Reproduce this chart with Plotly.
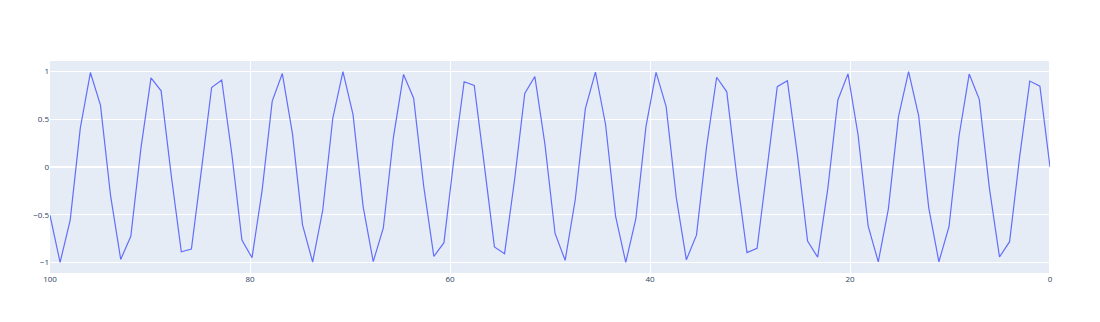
import plotly.graph_objects as go

# 100 evenly spaced x values from 0 to 100 (step 100/99), y values
x_vals = [
    0.0, 1.0101, 2.0202, 3.0303, 4.0404, 5.0505, 6.0606, 7.0707, 8.0808, 9.0909,
    10.101, 11.1111, 12.1212, 13.1313, 14.1414, 15.1515, 16.1616, 17.1717, 18.1818, 19.1919,
    20.202, 21.2121, 22.2222, 23.2323, 24.2424, 25.2525, 26.2626, 27.2727, 28.2828, 29.2929,
    30.303, 31.3131, 32.3232, 33.3333, 34.3434, 35.3535, 36.3636, 37.3737, 38.3838, 39.3939,
    40.404, 41.4141, 42.4242, 43.4343, 44.4444, 45.4545, 46.4646, 47.4747, 48.4848, 49.4949,
    50.5051, 51.5152, 52.5253, 53.5354, 54.5455, 55.5556, 56.5657, 57.5758, 58.5859, 59.596,
    60.6061, 61.6162, 62.6263, 63.6364, 64.6465, 65.6566, 66.6667, 67.6768, 68.6869, 69.697,
    70.7071, 71.7172, 72.7273, 73.7374, 74.7475, 75.7576, 76.7677, 77.7778, 78.7879, 79.798,
    80.8081, 81.8182, 82.8283, 83.8384, 84.8485, 85.8586, 86.8687, 87.8788, 88.8889, 89.899,
    90.9091, 91.9192, 92.9293, 93.9394, 94.9495, 95.9596, 96.9697, 97.9798, 98.9899, 100.0,
]
y_vals = [
    0.0000, 0.8469, 0.9007, 0.1111, -0.7826, -0.9434, -0.2208, 0.7086, 0.9744, 0.3277,
    -0.6259, -0.9933, -0.4306, 0.5353, 1.0000, 0.5282, -0.4382, -0.9943, -0.6193, 0.3357,
    0.9763, 0.7027, -0.2290, -0.9461, -0.7774, 0.1195, 0.9044, 0.8423, -0.0085, -0.8514,
    -0.8970, -0.1026, 0.7878, 0.9406, 0.2125, -0.7146, -0.9725, -0.3197, 0.6325, 0.9923,
    0.4229, -0.5425, -0.9999, -0.5210, 0.4458, 0.9951, 0.6126, -0.3436, -0.9781, -0.6966,
    0.2373, 0.9489, 0.7719, -0.1279, -0.9080, -0.8378, 0.0170, 0.8558, 0.8932, 0.0942,
    -0.7930, -0.9376, -0.2041, 0.7205, 0.9704, 0.3116, -0.6390, -0.9912, -0.4151, 0.5497,
    0.9998, 0.5136, -0.4535, -0.9960, -0.6058, 0.3517, 0.9798, 0.6904, -0.2456, -0.9515,
    -0.7664, 0.1364, 0.9115, 0.8331, -0.0255, -0.8602, -0.8894, -0.0857, 0.7982, 0.9346,
    0.1958, -0.7263, -0.9683, -0.3035, 0.6455, 0.9901, 0.4075, -0.5567, -0.9996, -0.5064,
]

fig = go.Figure(go.Scatter(x=x_vals, y=y_vals, mode="lines", line=dict(width=1.2)))
fig.update_layout(
    width=1100, height=322,
    margin=dict(l=50, r=50, t=61, b=49),
    font=dict(size=8),
    showlegend=False,
)
fig.update_xaxes(autorange="reversed")
fig.write_html("out.html")
